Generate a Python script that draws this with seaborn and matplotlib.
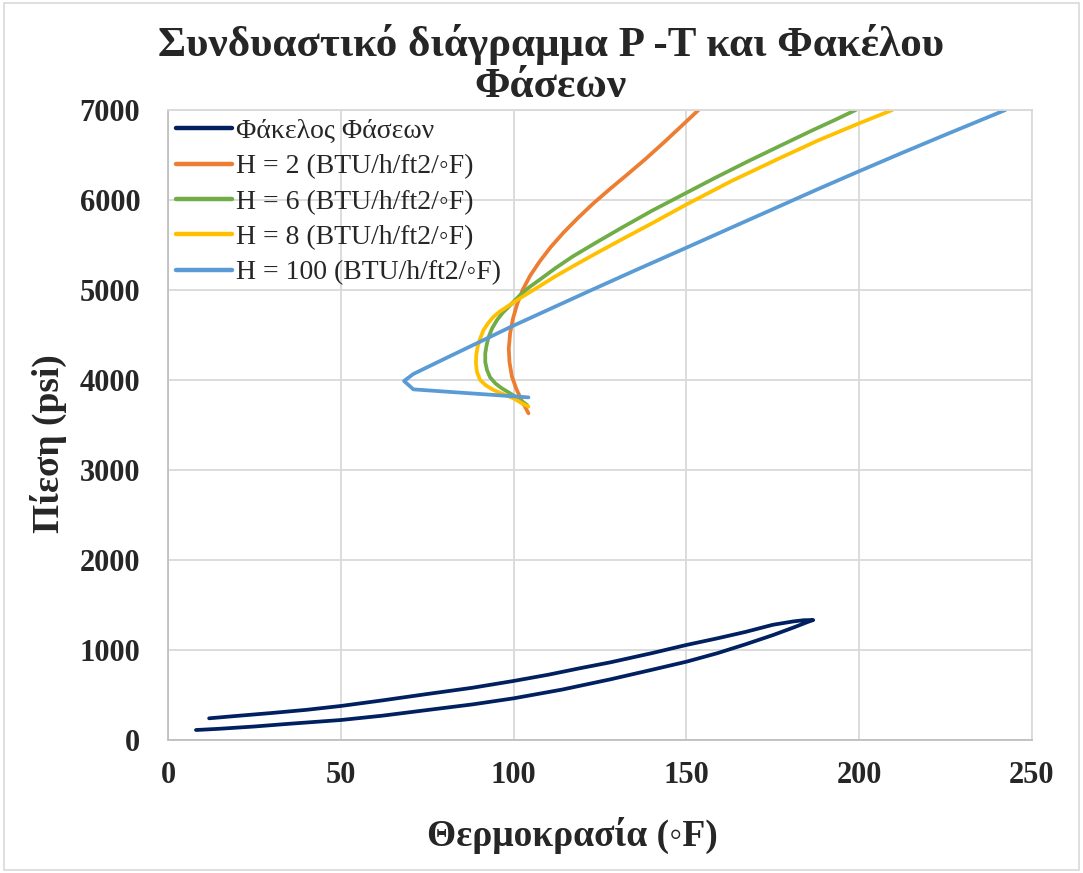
import numpy as np
import pandas as pd
import matplotlib
matplotlib.use("Agg")
import matplotlib.pyplot as plt
import seaborn as sns

# ---- data ----
env_T = [8.1, 15, 25, 35, 50, 62, 75, 88, 100, 114, 128, 140, 150, 159, 167, 175, 181, 185, 186.7,
         184, 181, 175, 167, 159, 150, 140, 128, 119, 110, 100, 88, 75, 62, 50, 40, 30, 20, 11.9]
env_P = [111, 125, 150, 180, 222, 270, 333, 395, 463, 560, 674, 780, 870, 965, 1062, 1165, 1250, 1310, 1333,
         1331, 1318, 1280, 1200, 1130, 1056, 965, 863, 796, 725, 656, 580, 511, 440, 378, 335, 300, 268, 241]

h2_T = [104.3, 102.5, 100.8, 99.5, 98.8, 98.6, 99.0, 99.8, 101.0, 102.6, 104.8, 107.6,
        110.8, 114.5, 118.6, 123.0, 127.8, 132.8, 138.0, 143.5, 148.8, 153.5]
h2_P = [3630, 3760, 3900, 4040, 4200, 4350, 4520, 4680, 4840, 5000, 5160, 5320,
        5480, 5640, 5800, 5960, 6120, 6280, 6450, 6640, 6830, 7000]

h6_T = [103.9, 101.5, 99.0, 96.5, 94.7, 93.2, 92.3, 91.8, 91.8, 92.2, 92.8, 93.8, 95.2, 96.8,
        98.6, 101.7, 104.5, 107.4, 112.0, 117.0, 124.0, 131.2, 140.0, 150.0, 158.0, 167.3,
        177.0, 186.5, 193.0, 199.0]
h6_P = [3722, 3790, 3852, 3910, 3963, 4030, 4111, 4200, 4296, 4390, 4481, 4575, 4666, 4745,
        4814, 4937, 5030, 5110, 5240, 5370, 5530, 5690, 5880, 6080, 6240, 6420,
        6600, 6775, 6890, 7000]

h8_T = [104.3, 102.0, 100.0, 97.0, 94.2, 92.0, 90.3, 89.4, 89.1, 89.2, 89.6, 90.3, 91.3, 92.6,
        94.2, 96.0, 98.1, 101.7, 107.4, 112.0, 117.0, 124.0, 131.2, 140.0, 150.0, 163.0,
        176.9, 188.0, 200.0, 209.6]
h8_P = [3704, 3750, 3796, 3843, 3889, 3940, 4000, 4090, 4185, 4280, 4370, 4460, 4555, 4630,
        4703, 4760, 4814, 4905, 5040, 5150, 5260, 5410, 5560, 5740, 5950, 6210,
        6463, 6660, 6852, 7000]

h100_T = [104.3, 71.0, 68.3, 71.0, 80.0, 90.0, 98.9, 110.0, 121.7, 135.0, 150.0, 163.0,
          176.9, 188.0, 200.0, 212.0, 225.0, 242.3]
h100_P = [3807, 3896, 3989, 4067, 4235, 4420, 4585, 4780, 4985, 5215, 5470, 5693,
          5930, 6120, 6320, 6517, 6726, 7000]

labels = ["Φάκελος Φάσεων",
          "H = 2 (BTU/h/ft2/◦F)",
          "H = 6 (BTU/h/ft2/◦F)",
          "H = 8 (BTU/h/ft2/◦F)",
          "H = 100 (BTU/h/ft2/◦F)"]
colors = ["#002060", "#ED7D31", "#70AD47", "#FFC000", "#5B9BD5"]

x_ticks = [0, 50, 100, 150, 200, 250]
y_ticks = [0, 1000, 2000, 3000, 4000, 5000, 6000, 7000]

title = "Συνδυαστικό διάγραμμα P -T και Φακέλου\nΦάσεων"
xlabel = "Θερμοκρασία (◦F)"
ylabel = "Πίεση (psi)"

# ---- build long table ----
series = [(env_T, env_P), (h2_T, h2_P), (h6_T, h6_P), (h8_T, h8_P), (h100_T, h100_P)]
frames = []
for lab, (t, p) in zip(labels, series):
    frames.append(pd.DataFrame({"T": t, "P": p, "series": lab}))
df = pd.concat(frames, ignore_index=True)

sns.set_theme(style="white")
plt.rcParams['font.family'] = ['Liberation Serif', 'DejaVu Serif']

fig = plt.figure(figsize=(10.83, 8.73), dpi=100)
ax = fig.add_axes([168/1083, 1 - 740/873, (1032 - 168)/1083, (740 - 110)/873])

sns.lineplot(data=df, x="T", y="P", hue="series", hue_order=labels,
             palette=colors, sort=False, estimator=None, units="series",
             linewidth=2.7, ax=ax, legend=True)
for ln in ax.get_lines():
    ln.set_solid_joinstyle("round")
    ln.set_solid_capstyle("round")

ax.set_xlim(0, 250)
ax.set_ylim(0, 7000)
ax.set_xticks(x_ticks)
ax.set_yticks(y_ticks)
ax.set_xticklabels([str(v) for v in x_ticks], fontsize=22, fontweight="bold")
ax.set_yticklabels([str(v) for v in y_ticks], fontsize=22, fontweight="bold")
ax.tick_params(axis="x", length=0, pad=15)
ax.tick_params(axis="y", length=0, pad=20)

ax.grid(True, color="#D9D9D9", linewidth=1.3)
ax.set_axisbelow(True)
for s in ax.spines.values():
    s.set_visible(True)
    s.set_color("#D9D9D9")
    s.set_linewidth(1.3)
ax.spines["left"].set_color("#BFBFBF")
ax.spines["bottom"].set_color("#BFBFBF")

ax.set_xlabel(xlabel, fontsize=27, fontweight="bold", va="center")
ax.xaxis.set_label_coords((572 - 168) / 864, -(835 - 740) / 630)
ax.set_ylabel(ylabel, fontsize=27, fontweight="bold", va="center")
ax.yaxis.set_label_coords((48 - 168) / 864, 0.47)

fig.text(551 / 1083, 1 - 65 / 873, title, ha="center", va="center",
         fontsize=31, fontweight="bold", linespacing=1.07)

leg = ax.legend(loc="upper left", bbox_to_anchor=(0.0, 1.0), frameon=False,
                fontsize=20, handlelength=2.0, handletextpad=0.15,
                labelspacing=0.36, borderaxespad=0.0, borderpad=0.3)
for line in leg.get_lines():
    line.set_linewidth(3.2)

# light chart border
fig.patches.append(matplotlib.patches.Rectangle((0.004, 0.004), 0.992, 0.992,
                   transform=fig.transFigure, fill=False, edgecolor="#D9D9D9", linewidth=1.2))

fig.savefig("out.png", dpi=100)
